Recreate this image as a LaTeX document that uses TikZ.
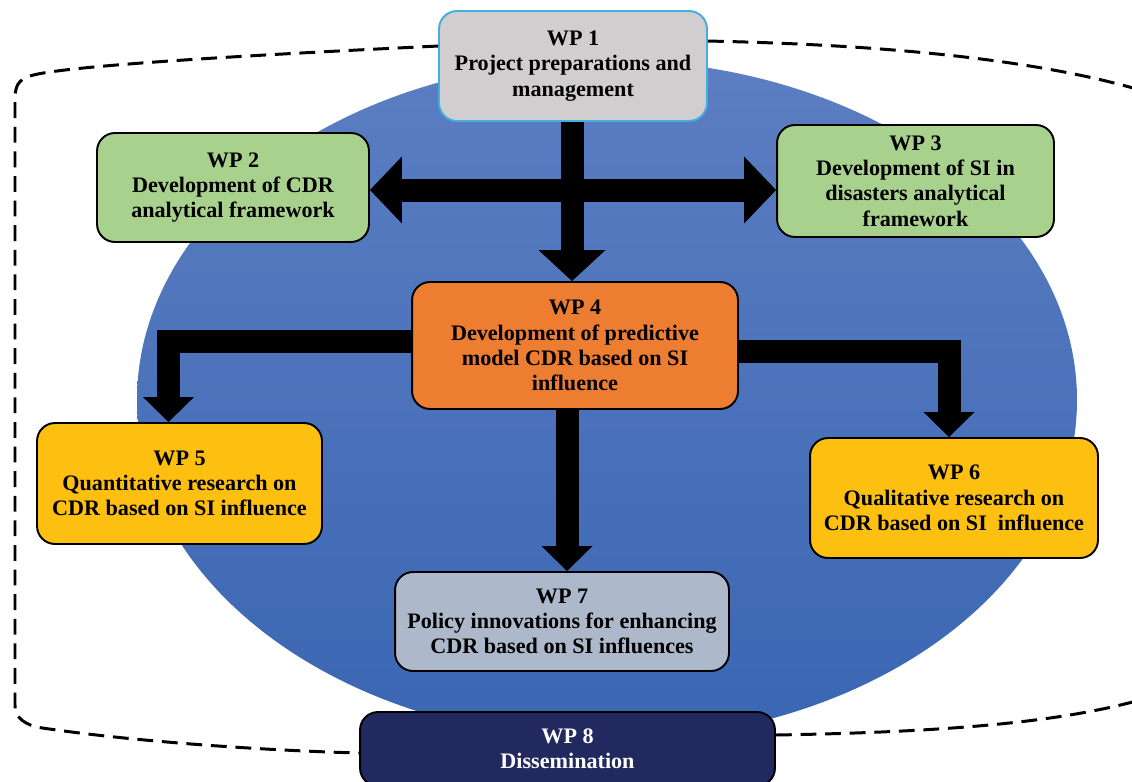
\documentclass[tikz,border=0pt]{standalone}
\usepackage{fontspec}
\setmainfont{Liberation Serif}
\usetikzlibrary{arrows.meta,calc}
\definecolor{wpgray}{RGB}{208,206,206}
\definecolor{wpcyan}{RGB}{68,174,222}
\definecolor{wpgreen}{RGB}{169,209,142}
\definecolor{wporange}{RGB}{237,125,49}
\definecolor{wpgold}{RGB}{253,191,16}
\definecolor{wpslate}{RGB}{173,185,202}
\definecolor{wpnavy}{RGB}{33,41,94}
\definecolor{ovaltop}{RGB}{92,126,194}
\definecolor{ovalbottom}{RGB}{58,102,178}

\begin{document}
\begin{tikzpicture}[x=0.02cm,y=-0.02cm,
  wp/.style={draw=black,line width=1.1pt,rounded corners=0.36cm,align=center,inner sep=0pt,
    font=\fontsize{12.6}{14.4}\selectfont\bfseries},
  flow/.style={line width=0.46cm,line join=miter},
  bighead/.style={-{Triangle[width=1.34cm,length=0.62cm,line width=0pt]}},
  smallhead/.style={-{Triangle[width=1.02cm,length=0.5cm,line width=0pt]}},
  loopline/.style={line width=1.7pt,dash pattern=on 9pt off 5pt}]
  \useasboundingbox (0,0) rectangle (1132,781);
  % blue oval behind everything
  \shade[top color=ovaltop,bottom color=ovalbottom] (607,400) ellipse [x radius=470,y radius=340];

  % work packages
  \node[wp,fill=wpgray,draw=wpcyan,minimum width=5.36cm,minimum height=2.2cm] (wp1) at (573,66)
    {WP 1\\Project preparations and\\management};
  \node[wp,fill=wpgreen,minimum width=5.44cm,minimum height=2.18cm] (wp2) at (233,187.5)
    {WP 2\\Development of CDR\\analytical framework};
  \node[wp,fill=wpgreen,minimum width=5.54cm,minimum height=2.24cm] (wp3) at (915.5,181)
    {WP 3\\Development of SI in\\disasters analytical\\framework};
  \node[wp,fill=wporange,minimum width=6.52cm,minimum height=2.54cm] (wp4) at (575,345.5)
    {WP 4\\Development of predictive\\model CDR based on SI\\influence};
  \node[wp,fill=wpgold,minimum width=5.7cm,minimum height=2.42cm] (wp5) at (179.5,483.5)
    {WP 5\\Quantitative research on\\CDR based on SI influence};
  \node[wp,fill=wpgold,minimum width=5.76cm,minimum height=2.4cm] (wp6) at (954,498)
    {WP 6\\Qualitative research on\\CDR based on SI\ \ influence};
  \node[wp,fill=wpslate,minimum width=6.68cm,minimum height=1.98cm] (wp7) at (562,621.5)
    {WP 7\\Policy innovations for enhancing\\CDR based on SI influences};
  \node[wp,fill=wpnavy,text=white,minimum width=8.3cm,minimum height=1.48cm] (wp8) at (567.5,749)
    {WP 8\\Dissemination};

  % block arrows
  \coordinate (hub) at (572,190);
  \coordinate (drop) at ($(wp4.south)+(-8,0)$);
  \draw[flow,bighead] (wp1.south -| hub) -- (wp4.north -| hub);
  \draw[flow,{Triangle[width=1.34cm,length=0.64cm,line width=0pt]}-{Triangle[width=1.34cm,length=0.64cm,line width=0pt]}]
    (wp2.east |- hub) -- (wp3.west |- hub);
  \draw[flow,smallhead] ($(wp4.west)+(0,-4)$) -| ($(wp5.north)+(-11,0)$);
  \draw[flow,smallhead] ($(wp4.east)+(0,6)$) -| ($(wp6.north)+(-5,0)$);
  \draw[flow,smallhead] (drop) -- (drop |- wp7.north);

  % dashed loop round the project
  \coordinate (offtop) at (1140,90);
  \coordinate (offlow) at (1140,700);
  \draw[loopline] ($(wp1.north west)+(0,36)$) .. controls (250,55) and (60,66) .. (30,76)
    .. controls (18,80) and (15,86) .. (15,100) -- (15,705)
    .. controls (15,715) and (20,722) .. (36,727)
    .. controls (120,740) and (250,750) .. ($(wp8.west)+(0,4)$);
  \draw[loopline] ($(wp1.north east)+(0,31)$) .. controls (850,44) and (1020,55) .. (offtop);
  \draw[loopline] ($(wp8.east)+(0,-14)$) .. controls (950,732) and (1060,722) .. (offlow);
\end{tikzpicture}
\end{document}
